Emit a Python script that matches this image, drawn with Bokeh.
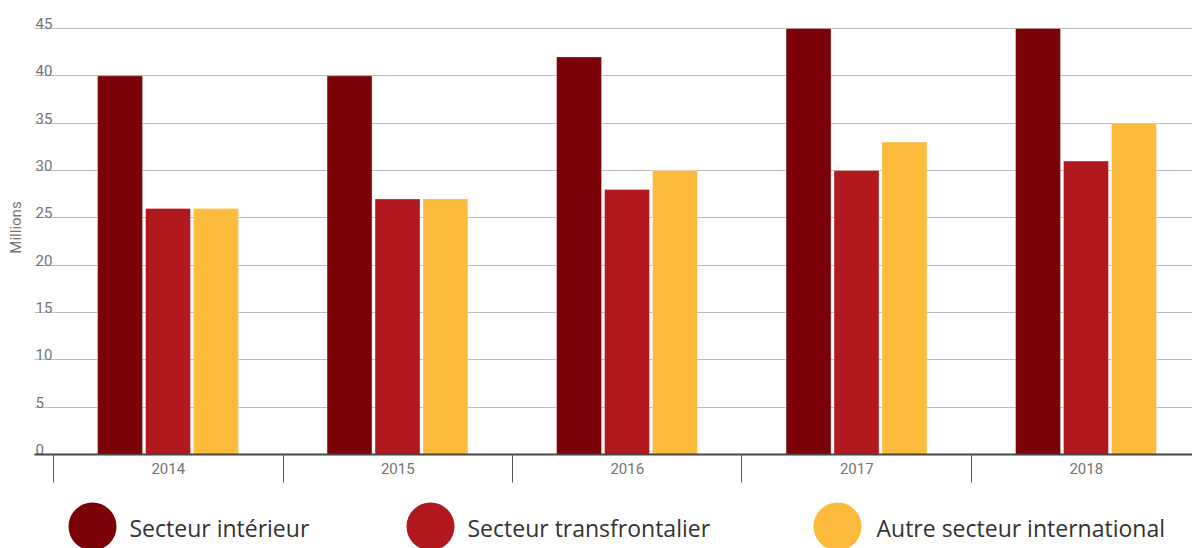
from bokeh.plotting import figure
from bokeh.models import Range1d, FixedTicker, ColumnDataSource
from bokeh.layouts import column
from bokeh.core.properties import value
from bokeh.embed import file_html
from bokeh.resources import INLINE

# Passenger traffic by sector, in millions
years = ["2014", "2015", "2016", "2017", "2018"]
interieur = [40, 40, 42, 45, 45]
transfrontalier = [26, 27, 28, 30, 31]
autre_international = [26, 27, 30, 33, 35]

series_names = ["Secteur intérieur", "Secteur transfrontalier", "Autre secteur international"]
series_colors = ["#7b0206", "#b1191f", "#fdbb3b"]
y_ticks = [0, 5, 10, 15, 20, 25, 30, 35, 40, 45]

TICK_FONT = "Roboto"
LEGEND_FONT = "Open Sans"
GREY = "#757575"

W = 1192
CHART_H = 490
LEGEND_H = 58
LEFT = 34

p = figure(width=W, height=CHART_H, output_backend="svg", toolbar_location=None,
           x_range=Range1d(-0.0828, 4.963), y_range=Range1d(0, 47.96),
           min_border_left=LEFT, min_border_right=0, min_border_top=0, min_border_bottom=36)
p.outline_line_color = None
p.background_fill_color = "white"
p.border_fill_color = "white"

# grouped bars: one slot per year, three bars inside each slot
offsets = [0.29, 0.499, 0.708]
bar_w = 0.196
for vals, off, col, name in zip([interieur, transfrontalier, autre_international], offsets, series_colors, series_names):
    src = ColumnDataSource(dict(x=[i + off for i in range(len(years))], top=vals))
    p.vbar(x="x", top="top", width=bar_w, bottom=0, source=src,
           fill_color=col, line_color="white", line_alpha=0.35, line_width=1)

# horizontal grid
p.xgrid.visible = False
p.ygrid.ticker = FixedTicker(ticks=y_ticks)
p.ygrid.grid_line_color = "#bdbdbd"
p.ygrid.grid_line_width = 1
p.ygrid.level = "underlay"

# value labels sitting on top of each grid line
lab_src = ColumnDataSource(dict(x=[p.x_range.start] * len(y_ticks), y=y_ticks,
                                t=[str(v) for v in y_ticks]))
p.text(x="x", y="y", text="t", source=lab_src, text_font=value(TICK_FONT),
       text_font_size="15px", text_color=GREY, text_align="left",
       text_baseline="alphabetic", x_offset=1, y_offset=-5)

# y axis only carries the title
yax = p.yaxis[0]
yax.ticker = FixedTicker(ticks=[])
yax.axis_line_color = None
yax.major_tick_line_color = None
yax.minor_tick_line_color = None
yax.major_tick_out = 0
yax.axis_label = "Millions"
yax.axis_label_text_font = TICK_FONT
yax.axis_label_text_font_size = "15px"
yax.axis_label_text_font_style = "normal"
yax.axis_label_text_color = GREY
yax.axis_label_standoff = 10

# x axis: year labels centred in each slot, separators between slots
xax = p.xaxis[0]
xax.ticker = FixedTicker(ticks=[i + 0.5 for i in range(len(years))],
                         minor_ticks=list(range(len(years) + 1)))
xax.major_label_overrides = {i + 0.5: y for i, y in enumerate(years)}
xax.axis_line_color = "#444444"
xax.axis_line_width = 2
xax.major_tick_line_color = None
xax.major_tick_out = 0
xax.major_tick_in = 0
xax.minor_tick_in = 0
xax.minor_tick_out = 28
xax.minor_tick_line_color = "#555555"
xax.minor_tick_line_width = 1
xax.major_label_standoff = -20
xax.major_label_text_font = TICK_FONT
xax.major_label_text_font_size = "15px"
xax.major_label_text_color = GREY

# legend strip below the chart (its frame lines up with the chart frame,
# so the x range is expressed in page pixels from LEFT to the right edge)
lg = figure(width=W, height=LEGEND_H, output_backend="svg", toolbar_location=None,
            x_range=Range1d(LEFT, W), y_range=Range1d(0, LEGEND_H),
            x_axis_location=None, y_axis_location=None,
            min_border_left=LEFT, min_border_right=0,
            min_border_top=0, min_border_bottom=0)
lg.outline_line_color = None
lg.grid.visible = False
marker_x = [92, 430, 837]
text_x = [129, 467, 876]
lg.scatter(x=marker_x, y=[22] * 3, size=48, marker="circle",
           fill_color=series_colors, line_color=None)
lg.text(x=text_x, y=[21] * 3, text=series_names, text_font=value(LEGEND_FONT),
        text_font_size="23px", text_color="#333333", text_align="left",
        text_baseline="middle")

layout = column(p, lg, spacing=0)
open("out.html", "w").write(file_html(layout, INLINE))
